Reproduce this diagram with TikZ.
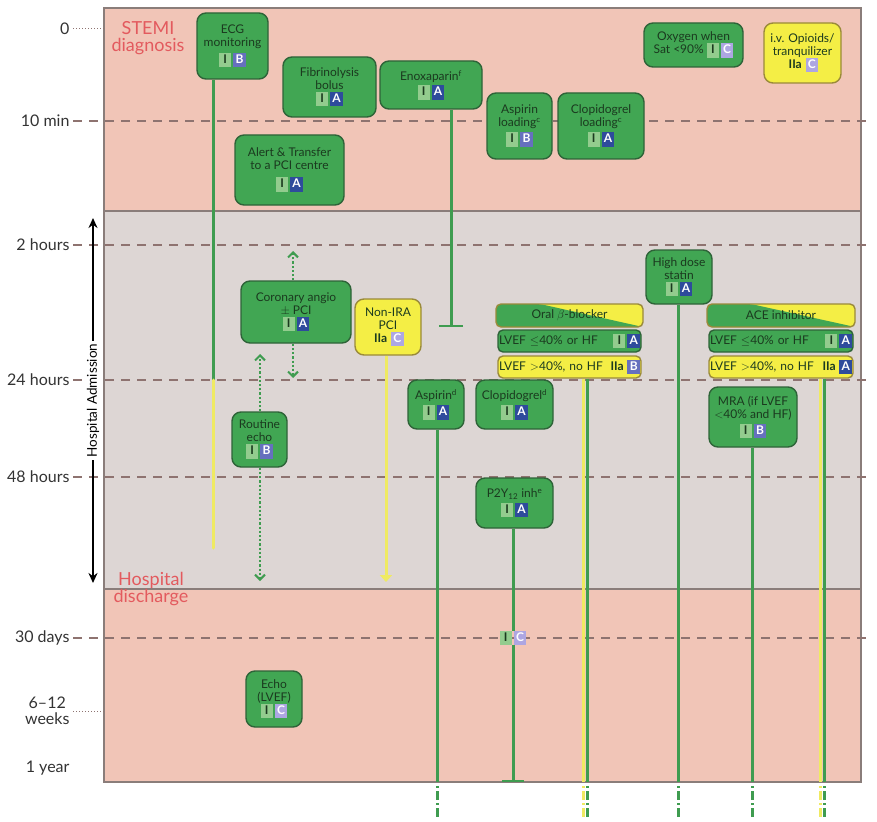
\documentclass[tikz,border=0pt]{standalone}
\usepackage{fontspec}
\setmainfont{Lato}
\usetikzlibrary{arrows.meta}

\definecolor{pinkbg}{HTML}{F1C5B7}
\definecolor{greybg}{HTML}{DDD6D4}
\definecolor{frame}{HTML}{8A7D7A}
\definecolor{dashc}{HTML}{8E7370}
\definecolor{boxgreen}{HTML}{41A653}
\definecolor{boxedge}{HTML}{2E6338}
\definecolor{boxtext}{HTML}{1B3A1F}
\definecolor{ylw}{HTML}{F4EE45}
\definecolor{ylwedge}{HTML}{9A8A3A}
\definecolor{lgreen}{HTML}{3F9C50}
\definecolor{lyellow}{HTML}{EFEA62}
\definecolor{clsI}{HTML}{93CC8E}
\definecolor{levA}{HTML}{2E4B9C}
\definecolor{levB}{HTML}{6670BE}
\definecolor{levC}{HTML}{ADA6E2}
\definecolor{stemired}{HTML}{E35A5E}

% badges for class / level of evidence
\newcommand{\badge}[3]{{\setlength{\fboxsep}{1.8pt}\colorbox{#1}{\textcolor{#2}{\vphantom{Ag}#3}}}}
\newcommand{\clsI}{\badge{clsI}{boxtext}{\makebox[0.7em]{\textbf{I}}}}
\newcommand{\clsIIa}{\badge{ylw}{boxtext}{\textbf{IIa}}}
\newcommand{\levA}{\badge{levA}{white}{\makebox[0.75em]{\textbf{A}}}}
\newcommand{\levB}{\badge{levB}{white}{\makebox[0.75em]{\textbf{B}}}}
\newcommand{\levC}{\badge{levC}{white}{\makebox[0.75em]{\textbf{C}}}}

\tikzset{
  gbox/.style={draw=boxedge, fill=boxgreen, line width=1.4pt, rounded corners=9pt,
    align=center, text=boxtext, inner sep=1pt, font=\fontsize{12}{13}\selectfont},
  ybox/.style={gbox, draw=ylwedge, fill=ylw},
  rowbox/.style={gbox, rounded corners=5pt, text width=#1, align=left, minimum height=22pt},
  hdrbox/.style={gbox, draw=ylwedge, fill=ylw, rounded corners=5pt, minimum height=23pt,
    path picture={\fill[boxgreen] (path picture bounding box.south west)
      -- (path picture bounding box.north west) -- ([xshift=44pt]path picture bounding box.north west)
      -- (path picture bounding box.south east) -- cycle;}},
  timelabel/.style={anchor=east, align=center, text=black!80, font=\fontsize{16}{16}\selectfont},
  timeline/.style={dashc, line width=1.2pt, dash pattern=on 9pt off 7pt},
  gline/.style={lgreen, line width=3pt},
  yline/.style={lyellow, line width=3pt},
  dotline/.style={lgreen, line width=2.6pt, dash pattern=on 2.2pt off 2pt},
  chevron/.tip={Straight Barb[length=5pt, width=10pt, line width=2pt]},
  contline/.style={line width=3pt, dash pattern=on 2pt off 3pt on 9pt off 3pt},
  phase/.style={text=stemired, align=center, font=\fontsize{18}{17}\selectfont}
}

\begin{document}
\begin{tikzpicture}[x=1pt, y=-1pt]
  \useasboundingbox (0,0) rectangle (877,821);

  % panels
  \fill[pinkbg] (104,8) rectangle (861,211);
  \fill[greybg] (104,211) rectangle (861,589);
  \fill[pinkbg] (104,589) rectangle (861,782);
  \draw[frame, line width=1.5pt] (104,8) rectangle (861,782);
  \draw[frame, line width=1.5pt] (104,211) -- (861,211);
  \draw[frame, line width=1.5pt] (104,589) -- (861,589);

  % time axis
  \node[timelabel] (t0) at (73,29) {0};
  \node[timelabel] (t10) at (73,121) {10 min};
  \node[timelabel] (t2h) at (73,245) {2 hours};
  \node[timelabel] (t24h) at (73,380) {24 hours};
  \node[timelabel] (t48h) at (73,477) {48 hours};
  \node[timelabel] (t30d) at (73,638) {30 days};
  \node[timelabel] (t6w) at (73,711) {6--12\\weeks};
  \node[timelabel] (t1y) at (73,768) {1 year};
  \draw[dashc, line width=1pt, dotted] (t0.east) -- (104,29);
  \draw[dashc, line width=1pt, dotted] (t6w.east) -- (104,711);
  \foreach \ty/\tn in {121/t10, 245/t2h, 380/t24h, 477/t48h, 638/t30d}
    \draw[timeline] (\tn.east) -- (870,\ty);

  % hospital admission
  \coordinate (admtop) at (93,218);
  \coordinate (admbot) at (93,583);
  \draw[line width=2.6pt, {Stealth[length=10pt,width=9pt]}-{Stealth[length=10pt,width=9pt]}] (admtop) -- (admbot)
    node[midway, rotate=90, fill=white, inner sep=3pt, font=\fontsize{13.5}{13.5}\selectfont] (adm) {Hospital Admission};

  \node[phase] (stemi) at (148,38) {STEMI\\diagnosis};
  \node[phase] (disch) at (151,589) {Hospital\\discharge};

  % boxes
  \node[gbox, minimum width=71pt, minimum height=66pt] (ecg) at (232.5,46) {ECG\\monitoring\\[4pt]\clsI\,\levB};
  \node[gbox, minimum width=93pt, minimum height=60pt] (fib) at (329.5,87) {Fibrinolysis\\bolus\\\clsI\,\levA};
  \node[gbox, minimum width=102pt, minimum height=48pt] (enox) at (431,85) {Enoxaparin\textsuperscript{f}\\[2pt]\clsI\,\levA};
  \node[gbox, minimum width=65pt, minimum height=66pt] (asplo) at (519.5,126) {Aspirin\\loading\textsuperscript{c}\\[3pt]\clsI\,\levB};
  \node[gbox, minimum width=86pt, minimum height=66pt] (clolo) at (601,126) {Clopidogrel\\loading\textsuperscript{c}\\[3pt]\clsI\,\levA};
  \node[gbox, minimum width=99pt, minimum height=44pt] (oxy) at (693.5,45) {Oxygen when\\Sat <90\% \clsI\,\levC};
  \node[ybox, minimum width=77pt, minimum height=60pt] (opi) at (802.5,53) {i.v. Opioids/\\tranquilizer\\\clsIIa\,\levC};
  \node[gbox, minimum width=109pt, minimum height=70pt] (alert) at (289.5,170) {Alert \& Transfer\\to a PCI centre\\[5pt]\clsI\,\levA};
  \node[gbox, minimum width=110pt, minimum height=62pt] (angio) at (296,312) {Coronary angio\\$\pm$ PCI\\\clsI\,\levA};
  \node[ybox, minimum width=66pt, minimum height=56pt] (nonira) at (388,327) {Non-IRA\\PCI\\\clsIIa\,\levC};
  \node[gbox, minimum width=55pt, minimum height=55pt] (echo) at (259.5,439.5) {Routine\\echo\\\clsI\,\levB};
  \node[gbox, minimum width=56pt, minimum height=49pt] (asp) at (436,404.5) {Aspirin\textsuperscript{d}\\[3pt]\clsI\,\levA};
  \node[gbox, minimum width=77pt, minimum height=49pt] (clo) at (514.5,404.5) {Clopidogrel\textsuperscript{d}\\[3pt]\clsI\,\levA};
  \node[gbox, minimum width=77pt, minimum height=50pt] (p2y) at (514.5,503) {P2Y\textsubscript{12} inh\textsuperscript{e}\\[3pt]\clsI\,\levA};
  \node[gbox, minimum width=66pt, minimum height=54pt] (statin) at (679,277) {High dose\\statin\\\clsI\,\levA};
  \node[gbox, minimum width=88pt, minimum height=60pt] (mra) at (753,417) {MRA (if LVEF\\$<$40\% and HF)\\[3pt]\clsI\,\levB};
  \node[gbox, minimum width=56pt, minimum height=56pt] (echolv) at (274,699) {Echo\\(LVEF)\\\clsI\,\levC};

  % beta-blocker and ACE inhibitor
  \node[hdrbox, minimum width=147pt] (bbhead) at (569.5,315.5) {Oral $\beta$-blocker};
  \node[rowbox=141pt] (bbrow1) at (569.5,341) {LVEF $\leq$40\% or HF\hfill\clsI\,\levA};
  \node[rowbox=141pt, draw=ylwedge, fill=ylw] (bbrow2) at (569.5,367) {LVEF $>$40\%, no HF\hfill\clsIIa\,\levB};
  \node[hdrbox, minimum width=148pt] (acehead) at (781,315.5) {ACE inhibitor};
  \node[rowbox=142pt] (acerow1) at (781,341) {LVEF $\leq$40\% or HF\hfill\clsI\,\levA};
  \node[rowbox=142pt, draw=ylwedge, fill=ylw] (acerow2) at (781,367) {LVEF $>$40\%, no HF\hfill\clsIIa\,\levA};

  \node[inner sep=0pt, font=\fontsize{12}{13}\selectfont] (p2ylate) at (513,638) {\clsI\,\levC};

  % connectors
  \coordinate (ecgturn) at (213,380);
  \coordinate (ecgend) at (213,548);
  \draw[gline] (ecg.south -| ecgturn) -- (ecgturn);
  \draw[yline, line cap=round] (ecgturn) -- (ecgend);

  \coordinate (enoxend) at (451,327);
  \draw[gline, -{Bar[width=24pt, line width=2.5pt]}] (enox.south -| enoxend) -- (enoxend);

  \coordinate (angiotop) at (293,251);
  \coordinate (angiobot) at (293,378);
  \draw[dotline, -chevron] (angio.north -| angiotop) -- (angiotop);
  \draw[dotline, -chevron] (angio.south -| angiobot) -- (angiobot);

  \coordinate (echotop) at (260,354);
  \coordinate (echobot) at (260,581);
  \draw[dotline, -chevron] (echo.north -| echotop) -- (echotop);
  \draw[dotline, -chevron] (echo.south -| echobot) -- (echobot);

  \coordinate (noniraend) at (386,582);
  \draw[yline, -{Triangle[length=7pt, width=12pt]}] (nonira.south -| noniraend) -- (noniraend);

  \coordinate (p2yend) at (513,782);
  \draw[gline] (p2y.south -| p2yend) -- (p2ylate);
  \draw[gline, -{Bar[width=22pt, line width=2.5pt]}] (p2ylate) -- (p2yend);

  % lines lasting beyond one year
  \coordinate (aspend) at (437,782);
  \coordinate (bbyend) at (583,782);
  \coordinate (bbgend) at (587,782);
  \coordinate (statend) at (678,782);
  \coordinate (mraend) at (752,782);
  \coordinate (aceyend) at (820,782);
  \coordinate (acegend) at (824,782);
  \draw[gline] (asp.south -| aspend) -- (aspend);
  \draw[yline] (bbrow2.south -| bbyend) -- (bbyend);
  \draw[gline] (bbrow2.south -| bbgend) -- (bbgend);
  \draw[gline] (statin.south -| statend) -- (statend);
  \draw[gline] (mra.south -| mraend) -- (mraend);
  \draw[yline] (acerow2.south -| aceyend) -- (aceyend);
  \draw[gline] (acerow2.south -| acegend) -- (acegend);
  \foreach \cx/\cc in {437/lgreen, 583/lyellow, 587/lgreen, 678/lgreen, 752/lgreen, 820/lyellow, 824/lgreen}
    \draw[contline, \cc] (\cx,786) -- (\cx,818);
\end{tikzpicture}
\end{document}
